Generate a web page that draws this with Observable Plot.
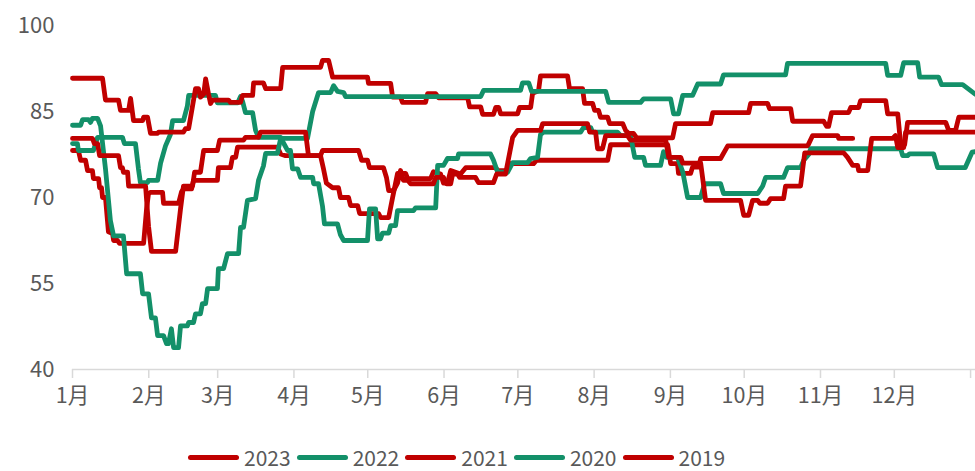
<!DOCTYPE html>
<html><head><meta charset="utf-8">
<script src="https://cdn.jsdelivr.net/npm/d3@7"></script>
<script src="https://cdn.jsdelivr.net/npm/@observablehq/plot@0.6"></script>
<style>
body{margin:0;background:#fff;font-family:"Noto Sans CJK SC","Noto Sans",sans-serif;}
#chart{width:975px;height:471px;position:relative;overflow:hidden;background:#fff}
.legend{position:absolute;left:188px;top:445px;display:flex;align-items:center;font-size:21px;line-height:24px;color:#595959;}
.item{display:flex;align-items:center;margin-right:6px}
.sw{width:51px;height:5px;border-radius:3px;margin-right:5px}
</style></head><body>
<div id="chart"></div>
<script>
// categories
const monthLabels = ["1月","2月","3月","4月","5月","6月","7月","8月","9月","10月","11月","12月",""];
const monthStartDays = [0,31,59,90,120,151,181,212,243,273,304,334,365];
const yTicks = [40,55,70,85,100];
const years = ["2023","2022","2021","2020","2019"];
const yearColors = ["#C00000","#139069","#C00000","#139069","#C00000"];

// series values: [day of year, value]
const s2023 = [[0,78.2],[2.4,78.2],[3.3,76.5],[5.3,76.5],[6.1,74.7],[8.1,74.7],[8.5,73.3],[10.6,73.3],[11,71.7],[11.8,71.7],[12.2,70],[13.4,70],[14.6,64],[16.3,63.7],[16.7,62.5],[18.3,62.5],[19.1,62],[28.9,62],[30.1,68],[30.9,70.7],[31.7,70.9],[36.6,70.9],[37,69],[43.1,69],[44.3,71],[45.1,71.5],[48.4,71.5],[49.2,73],[58.9,73],[59.3,75.2],[64.2,75.2],[65,77],[66.3,77],[67.1,78.8],[83.3,78.8],[84.6,77.6],[86.6,77.3],[100.8,77.3],[102,75],[103.2,72.5],[105.7,71.7],[108.1,71.7],[108.9,70],[112.2,70],[113,68.6],[115.9,68.6],[116.7,67.2],[124.4,67.2],[125.2,66.5],[128.5,66.5],[130.1,70],[132.1,74.2],[135.4,74.2],[136.2,73.3],[145.5,73.3],[146.7,74.5],[149.6,74.1],[150.8,72.5],[152.4,72.5],[153.7,74.7],[157.7,74.1],[159.8,75.2],[172,75.2],[172.8,74.7],[176.8,74.7],[178,75.9],[187.4,75.9],[188.6,76.5],[217.5,76.5],[218.7,79.2],[241.9,79.2],[243.1,75.9],[245.9,75.9],[246.3,74.2],[251.2,74.2],[252,75.3],[254.5,75.3],[255.3,76.8],[263.4,76.8],[266.3,79],[298.8,79],[300.8,80.8],[311,80.8],[311.4,80.3],[317.1,80.3]];

const s2022 = [[0,79.4],[2,79.4],[2.4,78.2],[8.5,78.2],[10.2,80.5],[20.3,80.5],[21.1,79.4],[25.6,79.4],[26.8,75],[27.6,72.6],[30.5,72.6],[30.9,73],[34.6,73],[35.8,76],[37.8,79],[39.8,81],[40.7,83.4],[45.1,83.4],[46.7,86],[47.2,87.8],[58.1,87.8],[58.9,86.5],[67.1,86.5],[68.3,87.6],[69.1,86.8],[70.3,84.8],[73.2,84.8],[74.4,81.7],[75.6,80.5],[84.6,80.5],[85.8,79.5],[87.4,78.2],[88.6,78.2],[89.4,75],[91.5,75],[92.7,73.5],[97.6,73.5],[98,72.4],[100,72.4],[101.6,68.5],[102.4,65.4],[107.7,65.4],[108.9,63.5],[110.2,62.5],[119.9,62.5],[120.7,68],[123.2,68],[124,62.8],[125.2,62.8],[126,63.8],[128.5,63.8],[129.3,65.1],[131.3,65.1],[132.1,67.7],[138.6,67.7],[139.4,68.2],[147.6,68.2],[148.4,75.6],[150.8,75.6],[152.4,76.8],[156.5,76.8],[156.9,77.6],[169.9,77.6],[171.1,76.5],[172.8,74.4],[176.8,74.4],[178.9,76.1],[185,76.1],[186.2,76.8],[189,77],[190.2,81],[191.5,81.4],[206.5,81.4],[207.7,82.2],[210.6,82.2],[211.4,81.4],[221.5,81.4],[222.8,80.8],[226.8,80.8],[228.5,77],[232.1,77],[232.9,75.6],[239,75.6],[240.2,78],[241.5,77],[245.9,77],[248,74.5],[250,70],[255.3,70],[256.9,72.4],[263.4,72.4],[264.6,70.7],[278.5,70.7],[280.5,72],[281.7,73.5],[289,73.5],[290.6,75.2],[295.9,75.2],[297.2,76.5],[299.2,77.5],[300,78.5],[336.6,78.5],[337.4,77.3],[339.4,77.3],[340.2,77.6],[350,77.6],[351.6,75.2],[362.8,75.2],[365.6,77.9],[367,78]];

const s2021 = [[0,90.8],[12.2,90.8],[13.4,87],[18.7,87],[19.5,85.2],[22.8,85.2],[23.6,87.3],[24,86],[24.8,83.4],[28.5,83.4],[28.9,84],[30.5,84],[31.7,81.2],[34.6,81.2],[35,81.4],[45.1,81.4],[45.9,82],[47.2,82],[48.8,86],[50,89],[51.2,89],[52,87.5],[53.3,88],[54.1,90.7],[55.3,88],[56.1,86.4],[56.9,87],[63.4,87],[64.2,86.6],[68.3,86.6],[69.1,87.8],[73.2,87.8],[73.6,90],[77.6,90],[78.5,89],[84.6,89],[85.4,92.7],[100.8,92.7],[101.6,93.9],[104.1,93.9],[105.7,91],[119.9,91],[120.3,89.9],[129.3,89.9],[130.1,87.5],[133.3,87.5],[134.1,86.6],[143.5,86.6],[144.3,88.1],[147.6,88.1],[148.8,87.4],[160.6,87.4],[161.4,85.8],[165.9,85.8],[166.7,84.5],[171.1,84.5],[172,85.7],[173.2,85.7],[174,84.6],[180.9,84.6],[181.7,85.7],[186.2,85.7],[187,88.2],[189.4,88.6],[190.2,91.2],[201.2,91.2],[202,89],[207.3,89],[208.1,86.4],[211.4,86.4],[212.2,85.2],[213.8,85.2],[214.6,84],[217.5,84],[218.3,82.9],[223.6,82.9],[224.8,81.7],[226,81.2],[228,81.2],[229.3,80.4],[243.9,80.4],[245.1,82.9],[259.3,82.9],[260.2,84.8],[274.8,84.8],[275.6,86.4],[282.5,86.4],[283.3,85.5],[291.9,85.5],[292.7,83.3],[305.3,83.3],[306.5,82.4],[307.3,82.4],[308.5,84.8],[315.4,84.8],[316.3,85.7],[319.5,85.7],[320.3,86.9],[330.5,86.9],[331.3,84.6],[335.4,84.6],[336.6,79.2],[338.2,79.2],[339.4,83.1],[354.9,83.1],[356.1,81.7],[358.9,81.7],[360.2,84],[367,84]];

const s2020 = [[0,82.6],[3.3,82.6],[4.1,83.6],[6.5,83.6],[7.3,83.1],[8.1,83.8],[10.2,83.8],[11.4,82.5],[13.4,75],[15.4,66],[16.7,63.3],[20.7,63.3],[22,56.7],[27.6,56.7],[28.5,53.2],[30.9,53.2],[32.1,49],[33.7,49],[34.6,45.9],[37,45.9],[38.2,44.5],[39,44.5],[40.2,47.1],[41.1,43.8],[43.1,43.8],[43.9,47.6],[46.7,47.6],[47.2,48.2],[49.2,48.2],[50,49.7],[52,49.7],[52.8,51.5],[54.1,51.5],[54.9,54.1],[58.9,54.1],[59.3,57.6],[61.4,57.6],[63,60.2],[67.5,60.2],[68.3,64.8],[69.5,64.8],[71.1,69.5],[74.4,69.8],[75.6,73],[77.6,75.5],[78.5,77.7],[83.3,77.7],[84.6,80.3],[95.5,80.3],[97.6,85],[100,88.3],[104.9,88.3],[106.1,89.5],[107.7,88.5],[110.2,88.3],[111,87.6],[165.9,87.6],[167.1,88.7],[182.1,88.7],[182.9,90],[185.4,90],[186.6,88.5],[216.7,88.5],[217.9,86.6],[230.9,86.6],[232.1,87.2],[243.1,87.2],[244.3,84.6],[246.3,84.6],[248,87.8],[252,87.8],[254.1,89.8],[263.4,89.8],[264.6,91.4],[289.8,91.4],[290.6,93.4],[330.5,93.4],[331.3,91.3],[336.6,91.3],[337.8,93.5],[343.5,93.5],[344.3,91],[352,91],[353.2,89.7],[361.8,89.7],[367,88]];

const s2019 = [[0,80.3],[8.1,80.3],[8.9,79.4],[10.2,79.4],[11,77.3],[18.7,77.3],[19.5,75.2],[20.3,75.2],[20.7,74.4],[22.4,74.4],[22.8,72],[29.7,72],[30.9,65],[32.1,60.6],[41.9,60.6],[43.9,68],[45.1,72],[48.8,72],[49.6,74.4],[52,74.4],[53.3,78.2],[58.9,78.2],[59.8,80],[69.5,80],[70.3,80.5],[75.6,80.5],[76.4,81.4],[94.7,81.4],[95.9,77.3],[100.8,77.3],[101.6,78.2],[116.3,78.2],[117.5,76.5],[119.9,76.5],[120.7,75.2],[126.4,75.2],[127.6,73.5],[128.5,71.2],[130.5,71.2],[132.1,72.5],[133.3,74.7],[134.5,73],[136.2,73],[137.4,72.4],[146.7,72.4],[147.6,73.5],[150.8,73.5],[152,72.4],[153.7,72.4],[154.5,74.1],[156.5,74.1],[157.3,73.5],[163.8,73.5],[165,72.6],[171.1,72.6],[172.4,74.1],[176,74.1],[178.9,80.5],[180.9,81.7],[190.2,81.7],[191.1,82.9],[209.3,82.9],[210.2,81.4],[212.6,81.4],[213.4,78.5],[215.4,78.5],[216.7,80.8],[225.6,80.8],[226.8,80],[241.1,80],[242.3,77],[247.2,77],[248,76],[255.3,76],[257.3,69.5],[271.5,69.5],[272.8,66.9],[274.8,66.9],[276.4,69.5],[278.5,69.5],[279.3,69],[282.5,69],[283.7,69.8],[289,69.8],[289.8,72],[295.9,72],[297.6,77.8],[313.4,77.8],[315,77],[317.1,75.6],[319.1,75.6],[319.5,74.7],[323.2,74.7],[324.8,80.3],[333.3,80.3],[334.5,80.8],[335.4,78.7],[337.8,78.7],[338.6,81.4],[367,81.4]];

const seriesData = [s2023, s2022, s2021, s2020, s2019];

const rows = years.map((yr, i) => seriesData[i].map(([day, value]) => ({year: yr, day, value})));

const font = '"Noto Sans CJK SC","Noto Sans",sans-serif';
const plot = Plot.plot({
  width: 975, height: 420,
  marginLeft: 72, marginRight: 0, marginTop: 25, marginBottom: 51,
  x: {domain: [0, 367]},
  y: {domain: [40, 100]},
  style: {fontFamily: font, fontSize: "21px", color: "#595959", background: "white", overflow: "visible"},
  marks: [
    Plot.axisY({ticks: yTicks, tickSize: 0, tickPadding: 18, fill: "#595959", fontSize: 22, label: null}),
    Plot.ruleY([40], {stroke: "#d9d9d9", strokeWidth: 1.5}),
    Plot.axisX({ticks: monthStartDays, tickFormat: d => monthLabels[monthStartDays.indexOf(d)], tickSize: 9, tickPadding: 9, stroke: "#d9d9d9", strokeWidth: 1.5, fill: "#595959", fontSize: 21.5, label: null}),
    ...rows.map((r, i) => Plot.line(r, {x: "day", y: "value", stroke: yearColors[i], strokeWidth: 4.8, strokeLinejoin: "round", strokeLinecap: "round", curve: "linear"}))
  ]
});
const chart = document.getElementById("chart");
chart.appendChild(plot);
const legend = document.createElement("div");
legend.className = "legend";
years.forEach((yr, i) => {
  const it = document.createElement("div"); it.className = "item";
  const sw = document.createElement("span"); sw.className = "sw"; sw.style.background = yearColors[i];
  const tx = document.createElement("span"); tx.textContent = yr;
  it.appendChild(sw); it.appendChild(tx); legend.appendChild(it);
});
chart.appendChild(legend);
</script>
</body></html>
